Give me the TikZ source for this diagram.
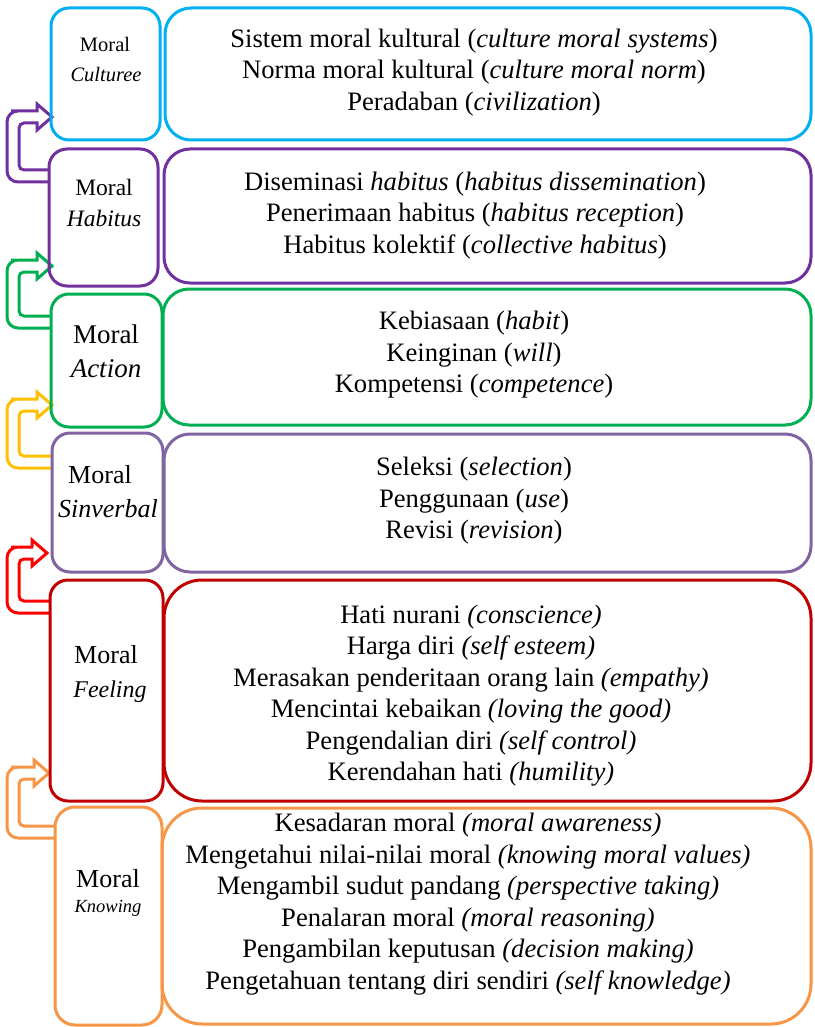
\documentclass[tikz,border=0pt]{standalone}
\usepackage{fontspec}
\setmainfont{Liberation Serif}

\definecolor{cblue}{HTML}{00B0F0}
\definecolor{cpurple}{HTML}{7030A0}
\definecolor{cgreen}{HTML}{00B050}
\definecolor{clilac}{HTML}{8064A2}
\definecolor{cdarkred}{HTML}{C00000}
\definecolor{corange}{HTML}{F79646}
\definecolor{cgold}{HTML}{FFC000}
\definecolor{cred}{HTML}{FF0000}

% Hollow U-turn block arrow: colour, x of the box edge it leaves,
% y of the lower shaft, x and y of the tip
\newcommand\turnarrow[5]{%
  \draw[arrowline,draw=#1] (#2,{#3+6}) [rounded corners=11]
    -- (7,{#3+6}) -- (7,{#5-6}) -- (22,{#5-6}) [sharp corners]
    -- ({#4-15},{#5-6}) -- ({#4-15},{#5-13}) -- (#4,#5)
    -- ({#4-15},{#5+13}) -- ({#4-15},{#5+6}) -- (27,{#5+6}) [rounded corners=5]
    -- (19,{#5+6}) -- (19,{#3-6}) -- (#2,{#3-6});}

\begin{document}
\begin{tikzpicture}[x=1pt,y=-1pt,
  panel/.style={draw=#1, line width=3pt, rectangle, inner sep=0pt},
  body/.style={align=center, inner sep=0pt, font=\fontsize{26.6}{31.5}\selectfont},
  tag/.style={anchor=base, inner sep=0pt},
  arrowline/.style={line width=3pt, line join=miter}]

\fill[white] (0,0) rectangle (814,1027);
\useasboundingbox (0,0) rectangle (814,1027);

% arrows between the levels
\turnarrow{cpurple}{50}{176}{52}{117}
\turnarrow{cgreen}{51}{322}{52}{266}
\turnarrow{cgold}{52}{462}{52}{405}
\turnarrow{cred}{50}{607}{47}{553}
\turnarrow{corange}{55}{832}{49}{773}

% left column
\node[panel=cblue,    rounded corners=18, minimum width=109, minimum height=132] (cultL) at (105.5,74)  {};
\node[panel=cpurple,  rounded corners=18, minimum width=109, minimum height=137] (habL)  at (103.5,217.5) {};
\node[panel=cgreen,   rounded corners=18, minimum width=111, minimum height=133] (actL)  at (106.5,360.5) {};
\node[panel=clilac,   rounded corners=18, minimum width=111, minimum height=139] (sinL)  at (107.5,502.5) {};
\node[panel=cdarkred, rounded corners=18, minimum width=113, minimum height=221] (feelL) at (106.5,690.5) {};
\node[panel=corange,  rounded corners=20, minimum width=107, minimum height=218] (knowL) at (108.5,916)  {};

% right column
\node[panel=cblue,    rounded corners=26, minimum width=646, minimum height=132] (cultR) at (488,74)    {};
\node[panel=cpurple,  rounded corners=26, minimum width=647, minimum height=134] (habR)  at (487.5,216) {};
\node[panel=cgreen,   rounded corners=26, minimum width=648, minimum height=136] (actR)  at (487,357)   {};
\node[panel=clilac,   rounded corners=26, minimum width=647, minimum height=138] (sinR)  at (487.5,503) {};
\node[panel=cdarkred, rounded corners=38, minimum width=647, minimum height=221] (feelR) at (487.5,690.5) {};
\node[panel=corange,  rounded corners=40, minimum width=649, minimum height=216] (knowR) at (486.5,916) {};

% level names
\node[tag, font=\fontsize{20.5}{24}\selectfont] (cultM) at (105,52) {Moral};
\node[tag, font=\fontsize{20.5}{24}\selectfont] (cultN) at (106,82) {\textit{Culturee}};
\node[tag, font=\fontsize{23.5}{28}\selectfont] (habM)  at (104,195) {Moral};
\node[tag, font=\fontsize{23.5}{28}\selectfont] (habN)  at (104,226) {\textit{Habitus}};
\node[tag, font=\fontsize{27}{31}\selectfont]   (actM)  at (106,343) {Moral};
\node[tag, font=\fontsize{27}{31}\selectfont]   (actN)  at (106,377) {\textit{Action}};
\node[tag, font=\fontsize{26}{31}\selectfont]   (sinM)  at (100,483) {Moral};
\node[tag, font=\fontsize{26}{31}\selectfont]   (sinN)  at (108,517) {\textit{Sinverbal}};
\node[tag, font=\fontsize{26}{31}\selectfont]   (feelM) at (106,663) {Moral};
\node[tag, font=\fontsize{24}{31}\selectfont]   (feelN) at (110,697) {\textit{Feeling}};
\node[tag, font=\fontsize{26}{31}\selectfont]   (knowM) at (108,887) {Moral};
\node[tag, font=\fontsize{18.5}{22}\selectfont] (knowN) at (108,912) {\textit{Knowing}};

% contents of each level
\node[body] (cultT) at (474,72.5) {Sistem moral kultural (\textit{culture moral systems})\\
  Norma moral kultural (\textit{culture moral norm})\\
  Peradaban (\textit{civilization})};
\node[body] (habT) at (475,215.5) {Diseminasi \textit{habitus} (\textit{habitus dissemination})\\
  Penerimaan habitus (\textit{habitus reception})\\
  Habitus kolektif (\textit{collective habitus})};
\node[body] (actT) at (474,355) {Kebiasaan (\textit{habit})\\
  Keinginan (\textit{will})\\
  Kompetensi (\textit{competence})};
\node[body] (sinT) at (474,501) {Seleksi (\textit{selection})\\
  Penggunaan (\textit{use})\\
  Revisi (\textit{revision})};
\node[body] (feelT) at (471,695.5) {Hati nurani \textit{(conscience)}\\
  Harga diri \textit{(self esteem)}\\
  Merasakan penderitaan orang lain \textit{(empathy)}\\
  Mencintai kebaikan \textit{(loving the good)}\\
  Pengendalian diri \textit{(self control)}\\
  Kerendahan hati \textit{(humility)}};
\node[body] (knowT) at (468,904) {Kesadaran moral \textit{(moral awareness)}\\
  Mengetahui nilai-nilai moral \textit{(knowing moral values)}\\
  Mengambil sudut pandang \textit{(perspective taking)}\\
  Penalaran moral \textit{(moral reasoning)}\\
  Pengambilan keputusan \textit{(decision making)}\\
  Pengetahuan tentang diri sendiri \textit{(self knowledge)}};
\end{tikzpicture}
\end{document}
